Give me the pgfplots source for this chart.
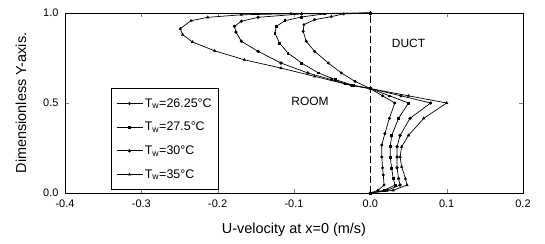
\documentclass[border=0pt]{standalone}
\usepackage{fontspec}
\setmainfont{Liberation Sans}
\usepackage{pgfplots}
\pgfplotsset{compat=1.18}
\begin{document}
\begin{tikzpicture}
\path[use as bounding box] (-65bp,-51bp) rectangle (480bp,193bp);
\begin{axis}[
  at={(0,0)}, anchor=south west,
  scale only axis,
  width=458bp, height=180bp,
  xmin=-0.4, xmax=0.2, ymin=0, ymax=1,
  xtick={-0.4,-0.3,...,0.2},
  ytick={0,0.5,1},
  tick align=inside,
  major tick length=4bp,
  /pgf/number format/assume math mode=true,
  ticklabel style={font=\fontsize{11}{13}\selectfont},
  xticklabel style={yshift=-3bp, /pgf/number format/.cd,fixed,fixed zerofill,precision=1},
  yticklabel style={xshift=-3bp, /pgf/number format/.cd,fixed,fixed zerofill,precision=1},
  xlabel={U-velocity at x=0 (m/s)},
  ylabel={Dimensionless Y-axis.},
  label style={font=\fontsize{14.5}{17}\selectfont},
  xlabel style={at={(axis description cs:0.5,-0.206)}, anchor=center},
  ylabel style={at={(axis description cs:-0.096,0.5)}, anchor=center},
  axis line style={line width=0.9bp},
  every axis plot/.append style={black, line width=0.7bp, mark size=1.1bp},
  legend style={at={(rel axis cs:0.1,0.583)}, anchor=north west, draw=black, line width=0.7bp,
    font=\fontsize{12.5}{15}\selectfont, row sep=9.5bp, inner xsep=5bp, inner ysep=8bp,
    legend cell align=left},
  legend image code/.code={\draw[mark repeat=2,mark phase=2,#1] plot coordinates {(0bp,0bp) (13bp,0bp) (26bp,0bp)};},
]
\addplot[mark=*] coordinates {
(0,1)(-0.035,0.995)(-0.051,0.98)(-0.073,0.963)(-0.087,0.935)(-0.088,0.898)(-0.084,0.843)(-0.073,0.787)(-0.055,0.722)(-0.038,0.667)(-0.02,0.62)(0,0.58)(0.016,0.54)(0.032,0.5)(0.025,0.415)(0.019,0.33)(0.015,0.267)(0.015,0.2)(0.016,0.14)(0.017,0.1)(0.018,0.044)(0.01,0.015)(0,0)
};
\addlegendentry{T\textsubscript{w}=26.25°C}
\addplot[mark=square*, mark size=0.9bp] coordinates {
(0,1)(-0.06,0.995)(-0.09,0.978)(-0.112,0.957)(-0.123,0.926)(-0.125,0.889)(-0.119,0.833)(-0.108,0.778)(-0.09,0.722)(-0.068,0.667)(-0.046,0.63)(-0.022,0.598)(0,0.58)(0.025,0.54)(0.050,0.5)(0.037,0.415)(0.028,0.32)(0.026,0.257)(0.026,0.2)(0.028,0.137)(0.030,0.08)(0.0325,0.044)(0.018,0.015)(0,0)
};
\addlegendentry{T\textsubscript{w}=27.5°C}
\addplot[mark=*, mark size=1.3bp] coordinates {
(0,1)(-0.09,0.995)(-0.147,0.976)(-0.169,0.954)(-0.178,0.926)(-0.176,0.894)(-0.169,0.843)(-0.147,0.787)(-0.117,0.722)(-0.082,0.667)(-0.051,0.63)(-0.025,0.598)(0,0.58)(0.04,0.54)(0.079,0.5)(0.052,0.415)(0.039,0.32)(0.035,0.257)(0.035,0.2)(0.035,0.14)(0.037,0.08)(0.039,0.044)(0.022,0.015)(0,0)
};
\addlegendentry{T\textsubscript{w}=30°C}
\addplot[mark=triangle*, mark size=1.2bp] coordinates {
(0,1)(-0.104,0.996)(-0.169,0.99)(-0.213,0.976)(-0.235,0.957)(-0.249,0.913)(-0.246,0.88)(-0.233,0.839)(-0.204,0.79)(-0.165,0.74)(-0.117,0.694)(-0.073,0.648)(-0.033,0.606)(0,0.58)(0.05,0.54)(0.100,0.50)(0.070,0.415)(0.050,0.32)(0.041,0.257)(0.039,0.2)(0.041,0.146)(0.046,0.08)(0.048,0.044)(0.03,0.015)(0,0)
};
\addlegendentry{T\textsubscript{w}=35°C}
\addplot[black, line width=0.8bp, dash pattern=on 7bp off 3bp, mark=none, forget plot] coordinates {(0,0)(0,1)};
\node[font=\fontsize{12}{14}\selectfont] at (axis cs:-0.079,0.51) {ROOM};
\node[font=\fontsize{12}{14}\selectfont] at (axis cs:0.05,0.83) {DUCT};
\end{axis}
\end{tikzpicture}
\end{document}
